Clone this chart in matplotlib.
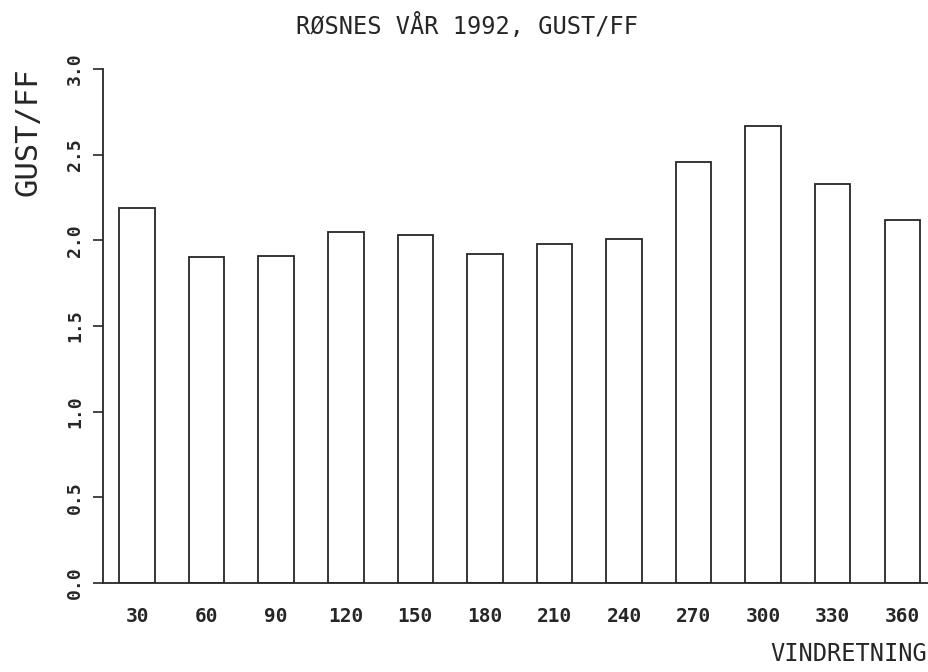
import matplotlib
matplotlib.use("Agg")
import matplotlib.pyplot as plt
import numpy as np

directions = ["30", "60", "90", "120", "150", "180", "210", "240", "270", "300", "330", "360"]
gust_ff = [2.19, 1.90, 1.91, 2.05, 2.03, 1.92, 1.98, 2.01, 2.46, 2.67, 2.33, 2.12]
yticks = [0.0, 0.5, 1.0, 1.5, 2.0, 2.5, 3.0]
ytick_labels = ["0.0", "0.5", "1.0", "1.5", "2.0", "2.5", "3.0"]

title = "RØSNES VÅR 1992, GUST/FF"
xlabel = "VINDRETNING"
ylabel = "GUST/FF"

ink = "#262626"
mono = ["DejaVu Sans Mono", "DejaVu Sans"]
plt.rcParams["font.family"] = mono

W, H = 929, 672
fig = plt.figure(figsize=(W / 100, H / 100), dpi=100)
ax = fig.add_axes([103 / W, 1 - 583 / H, (928 - 103) / W, (583 - 69) / H])

x = np.arange(len(directions))
ax.bar(x, gust_ff, width=0.51, facecolor="white", edgecolor=ink, linewidth=1.3)

ax.set_xlim(-0.49, 11.37)
ax.set_ylim(0, 3.0)

for s in ("top", "right"):
    ax.spines[s].set_visible(False)
for s in ("left", "bottom"):
    ax.spines[s].set_color(ink)
    ax.spines[s].set_linewidth(1.3)

ax.set_yticks(yticks)
ax.set_yticklabels(ytick_labels, rotation=90, va="center", fontsize=13,
                   fontweight="bold", color=ink)
ax.tick_params(axis="y", direction="out", length=7.5, width=1.2, color=ink, pad=6)

ax.set_xticks(x)
ax.set_xticklabels(directions, fontsize=14, fontweight="bold", color=ink)
ax.tick_params(axis="x", length=0, pad=17)

fig.text(467 / W, 1 - 26 / H, title, ha="center", va="center", fontsize=17, color=ink)
fig.text(927 / W, 1 - 654 / H, xlabel, ha="right", va="center", fontsize=17, color=ink)
fig.text(28 / W, 1 - 132 / H, ylabel, ha="center", va="center", rotation=90, fontsize=22, color=ink)

fig.savefig("out.png", dpi=100, facecolor="white")
